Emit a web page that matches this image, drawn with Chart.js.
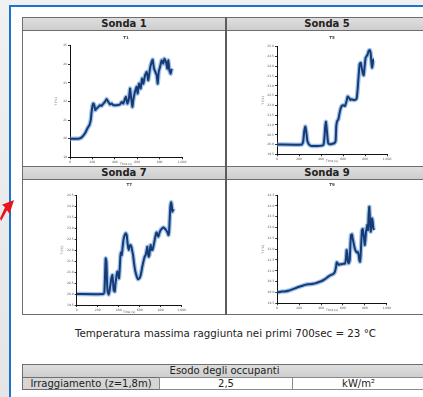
<!DOCTYPE html>
<html>
<head>
<meta charset="utf-8">
<script src="https://cdn.jsdelivr.net/npm/chart.js@4.4.1/dist/chart.umd.min.js"></script>
<style>
  html, body { margin: 0; padding: 0; width: 423px; height: 397px; overflow: hidden;
    background: linear-gradient(#f1f1f3, #e5e5e8); font-family: "DejaVu Sans", Verdana, sans-serif; color: #222; }
  .abs { position: absolute; box-sizing: border-box; }
  #panel { left: 9px; top: 5px; width: 440px; height: 420px; background: #fff;
    border-left: 2px solid #1a74d2; border-top: 2px solid #1a74d2; }
  .frame { border: 1px solid #6e6e6e; }
  .bar { background: linear-gradient(#dedede, #cecece); border: 1px solid #6e6e6e; }
  .hdr { font-weight: bold; font-size: 10px; line-height: 13px; text-align: center; white-space: nowrap; }
  .txt { font-size: 10px; text-align: center; white-space: nowrap; }
  canvas { position: absolute; }
  #arrow { left: 0; top: 198px; width: 14px; height: 26px; background: #e8141b;
    clip-path: polygon(100% 8%, 68% 62%, 50% 47%, 8% 88%, 0% 78%, 36% 36%, 14% 26%); }
</style>
</head>
<body>
<div id="panel" class="abs"></div>
<div id="arrow" class="abs"></div>

<!-- probe grid -->
<div class="abs frame" style="left:22px;top:17px;width:405px;height:298px;"></div>
<div class="abs bar" style="left:22px;top:17px;width:405px;height:14px;"></div>
<div class="abs bar" style="left:22px;top:166px;width:405px;height:14px;"></div>
<div class="abs" style="left:225px;top:17px;width:2px;height:298px;background:#5c5c5c;"></div>
<div class="abs hdr" style="left:23px;top:17px;width:202px;">Sonda 1</div>
<div class="abs hdr" style="left:227px;top:17px;width:200px;">Sonda 5</div>
<div class="abs hdr" style="left:23px;top:166px;width:202px;">Sonda 7</div>
<div class="abs hdr" style="left:227px;top:166px;width:200px;">Sonda 9</div>

<canvas id="c1"></canvas>
<canvas id="c5"></canvas>
<canvas id="c7"></canvas>
<canvas id="c9"></canvas>

<div class="abs" style="left:23px;top:327px;width:405px;font-size:10.3px;line-height:13px;text-align:center;white-space:nowrap;">Temperatura massima raggiunta nei primi 700sec = 23 °C</div>

<!-- occupant egress table -->
<div class="abs frame" style="left:22px;top:364px;width:405px;height:26px;"></div>
<div class="abs bar" style="left:22px;top:364px;width:405px;height:14px;"></div>
<div class="abs txt" style="left:22px;top:364px;width:405px;line-height:13px;">Esodo degli occupanti</div>
<div class="abs" style="left:22px;top:377px;width:138px;height:13px;background:#d6d6d6;border:1px solid #6e6e6e;"></div>
<div class="abs" style="left:159px;top:377px;width:134px;height:13px;border:1px solid #8a8a8a;"></div>
<div class="abs" style="left:292px;top:377px;width:135px;height:13px;border:1px solid #8a8a8a;"></div>
<div class="abs txt" style="left:22px;top:377px;width:138px;line-height:13px;">Irraggiamento (z=1,8m)</div>
<div class="abs txt" style="left:159px;top:377px;width:134px;line-height:13px;">2,5</div>
<div class="abs txt" style="left:292px;top:377px;width:133px;line-height:13px;">kW/m²</div>

<script>
// Probe temperature histories: time [s] and temperature [°C]
const sonda1Time = [0,74,104,134,155,173,185,193,202,208,217,226,238,253,268,283,298,312,327,342,357,372,387,417,446,461,476,491,500,512,524,536,545,557,565,580,595,604,616,631,643,655,670,685,699,714,729,738,750,762,774,783,792,804,818,833,842,857,869,878,887,899,908];
const sonda1Temp = [20.00,20.00,20.07,20.29,20.55,20.73,21.00,21.45,21.80,21.89,21.80,21.54,21.63,21.71,21.80,21.77,21.89,21.98,22.13,21.98,21.84,21.89,21.80,21.80,21.84,21.98,21.89,22.16,22.25,21.89,22.07,22.70,22.25,21.71,22.07,22.52,22.79,22.43,22.96,22.70,23.23,22.96,23.41,23.59,23.14,23.77,24.13,24.25,23.77,23.59,23.41,22.96,23.59,23.86,24.21,24.04,24.30,24.13,23.77,24.21,23.68,23.50,23.77];

const sonda5Time = [0,224,239,248,258,267,276,291,309,330,376,421,430,439,445,455,464,476,497,521,533,539,548,558,573,588,603,618,633,642,654,667,679,694,709,724,733,742,751,761,770,779,788,797,806,815,824,833,842,851,857,864,870,876,882];
const sonda5Temp = [20.00,20.00,20.19,20.70,20.92,20.61,20.19,20.00,19.93,19.93,19.93,19.97,20.27,20.95,21.16,20.61,20.10,20.02,20.03,20.07,20.19,20.95,21.21,21.29,21.72,21.97,22.01,21.97,22.23,22.45,22.40,22.28,22.31,22.28,22.28,22.35,22.82,23.50,24.10,24.18,23.93,23.67,23.54,24.01,24.44,24.52,24.61,24.78,24.83,24.69,24.27,23.93,24.10,24.35,24.35];

const sonda7Time = [0,254,264,270,276,283,289,295,305,314,321,330,340,346,352,362,368,378,387,397,403,410,416,422,429,435,441,448,457,467,476,483,489,495,502,511,521,527,537,546,559,572,584,597,610,622,635,648,657,667,673,679,686,692,699,705,711,721,730,740,749,756,762,768,778,787,800,813,826,838,851,864,873,879,886,892,899,905,911,918,924];
const sonda7Temp = [20.00,20.00,20.11,20.86,21.62,21.47,20.56,20.11,19.98,20.18,20.41,20.71,20.86,20.56,20.18,20.11,20.41,20.79,21.02,20.86,20.71,21.17,21.70,21.89,21.77,22.00,22.30,22.53,22.68,22.76,22.68,22.38,22.15,22.00,22.15,22.23,22.15,22.00,21.77,21.39,21.02,20.79,20.67,20.71,20.86,21.17,21.47,21.70,21.77,22.00,22.15,21.85,21.70,21.77,22.08,22.23,22.00,22.00,22.15,22.38,22.61,22.76,22.80,22.68,22.61,22.76,22.91,22.98,23.02,22.98,22.91,22.80,22.68,22.76,23.44,23.97,24.17,24.05,23.74,23.82,23.77];

const sonda9Time = [0,40,70,101,131,162,192,223,253,284,314,345,375,406,436,466,491,512,527,537,543,552,561,573,588,604,619,628,634,640,646,652,662,668,674,683,689,695,704,713,726,735,744,750,756,762,768,774,781,787,793,799,805,811,817,823,829,835,841,848,854,860,866,872,878,884];
const sonda9Temp = [20.00,20.04,20.05,20.08,20.13,20.19,20.25,20.30,20.35,20.38,20.39,20.42,20.47,20.53,20.62,20.73,20.81,20.85,20.96,21.19,21.39,21.35,21.27,21.30,21.30,21.33,21.33,21.58,21.96,21.81,21.42,21.35,21.50,22.19,22.65,22.68,22.50,22.35,22.12,21.96,21.85,21.88,21.73,21.50,21.42,21.73,22.35,22.88,22.93,22.73,22.50,22.19,22.42,22.81,22.96,23.12,22.88,23.58,23.96,23.27,22.81,23.12,23.42,23.27,22.96,22.88];

// Axis ranges: [min, max, step]
const timeAxis = [0, 1000, 100];
const sonda1Axis = [19, 25, 1];
const sonda5Axis = [19.5, 25, 0.5];
const sonda7Axis = [19.5, 24.5, 0.5];
const sonda9Axis = [19.5, 24.5, 0.5];

const probeTitles = ['T1', 'T5', 'T7', 'T9'];
const xTitle = 'Time (s)';
const yTitle = 'T (°C)';

Chart.defaults.font.family = '"DejaVu Sans", sans-serif';
Chart.defaults.animation = false;

const Y_W = 16;   // left axis band
const X_H = 9;    // bottom axis band
const TITLE_SIZE = 4;

function drawProbe(id, title, xs, ys, yAxis, box) {
  const cv = document.getElementById(id);
  const cl = Math.floor(box.left - 44), ct = Math.floor(box.top - 18);
  const cw = Math.ceil(box.right + 44) - cl, ch = Math.ceil(box.bottom + 18) - ct;
  cv.width = cw; cv.height = ch;
  cv.style.left = cl + 'px'; cv.style.top = ct + 'px';
  cv.style.width = cw + 'px'; cv.style.height = ch + 'px';

  const padL = box.left - cl - Y_W;
  const padR = cl + cw - box.right - Y_W;
  const padB = ct + ch - box.bottom - X_H;
  const lh = TITLE_SIZE * 1.2;
  const tTop = box.titleY - ct - lh / 2;
  const tBot = box.top - ct - lh - tTop;

  const pts = xs.map((t, i) => ({ x: t, y: ys[i] }));
  const tickFont = { size: 3 };
  new Chart(cv, {
    type: 'line',
    data: {
      datasets: [
        { data: pts, borderColor: '#163a76', borderWidth: 2, pointRadius: 0, tension: 0.15, order: 0 },
        { data: pts, borderColor: 'rgba(86,146,214,0.55)', borderWidth: 4.5, pointRadius: 0, tension: 0.15, order: 1 }
      ]
    },
    options: {
      responsive: false,
      devicePixelRatio: 1,
      layout: { padding: { left: padL, right: padR, top: 0, bottom: padB } },
      plugins: {
        legend: { display: false },
        tooltip: { enabled: false },
        title: { display: true, text: title, color: '#444', font: { size: TITLE_SIZE }, padding: { top: tTop, bottom: tBot } }
      },
      scales: {
        x: {
          type: 'linear', min: timeAxis[0], max: timeAxis[1],
          ticks: { stepSize: timeAxis[2], font: tickFont, color: '#555', padding: 1, maxRotation: 0 },
          grid: { drawOnChartArea: false, tickLength: 2, color: '#333' },
          border: { color: '#111', width: 1 },
          title: { display: true, text: xTitle, font: tickFont, color: '#555', padding: 0 },
          afterFit: s => { s.height = X_H; }
        },
        y: {
          min: yAxis[0], max: yAxis[1],
          ticks: { stepSize: yAxis[2], font: tickFont, color: '#555', padding: 1 },
          grid: { drawOnChartArea: false, tickLength: 2, color: '#333' },
          border: { color: '#111', width: 1 },
          title: { display: true, text: yTitle, font: tickFont, color: '#555', padding: 0 },
          afterFit: s => { s.width = Y_W; }
        },
        yBalance: {
          position: 'right', min: 0, max: 1,
          ticks: { display: false }, grid: { display: false }, border: { display: false },
          afterFit: s => { s.width = Y_W; }
        }
      }
    }
  });
}

drawProbe('c1', probeTitles[0], sonda1Time, sonda1Temp, sonda1Axis, { left: 70, right: 182, top: 45.7, bottom: 157.3, titleY: 37.7 });
drawProbe('c5', probeTitles[1], sonda5Time, sonda5Temp, sonda5Axis, { left: 277, right: 387, top: 46.7, bottom: 154.3, titleY: 37.7 });
drawProbe('c7', probeTitles[2], sonda7Time, sonda7Temp, sonda7Axis, { left: 76.7, right: 181.7, top: 195, bottom: 305, titleY: 185 });
drawProbe('c9', probeTitles[3], sonda9Time, sonda9Temp, sonda9Axis, { left: 277.3, right: 386.7, top: 195, bottom: 303.3, titleY: 185 });
</script>
</body>
</html>
